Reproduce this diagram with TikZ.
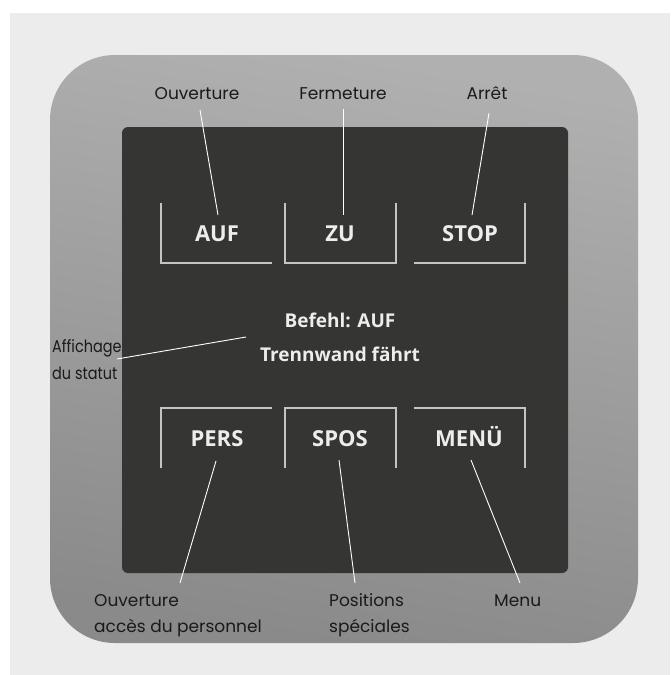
\documentclass[tikz,border=0pt]{standalone}
\usepackage{fontspec}
\usepackage{graphicx}
\setmainfont{Poppins}
\newfontfamily\scrfont{Open Sans}
\definecolor{panelc}{HTML}{ECECEC}
\definecolor{devtop}{HTML}{B0B0B0}
\definecolor{devbot}{HTML}{8A8A8A}
\definecolor{screenc}{HTML}{353533}
\definecolor{scrtext}{HTML}{EDEDED}
\definecolor{labelc}{HTML}{1A1A1A}
\definecolor{btnline}{HTML}{C4C4C4}
\begin{document}
\begin{tikzpicture}[x=1pt,y=-1pt,
  lbl/.style={text=labelc, font=\fontsize{17}{20}\selectfont, inner sep=0pt},
  scr/.style={text=scrtext, font=\scrfont\bfseries\fontsize{22}{26}\selectfont, inner sep=0pt},
  stat/.style={text=scrtext, font=\scrfont\bfseries\fontsize{19}{23}\selectfont, inner sep=0pt},
  lead/.style={draw=white, line width=0.9pt},
  btnframe/.style={draw=btnline, line width=1.3pt}]
\useasboundingbox (0,0) rectangle (670,675);
\fill[white] (0,0) rectangle (670,675);
\fill[panelc] (10,13) rectangle (670,675);
% device body
\shade[top color=devtop, bottom color=devbot, shading angle=-10, rounded corners=65pt] (50,55) rectangle (638,643);
% screen
\fill[screenc, rounded corners=6pt] (122,127) rectangle (568,573);
% button frames
\draw[btnframe] (161,203) -- (161,263) -- (272,263);
\draw[btnframe] (285,203) -- (285,263) -- (396,263) -- (396,203);
\draw[btnframe] (414,263) -- (525,263) -- (525,203);
\draw[btnframe] (161,468) -- (161,408) -- (272,408);
\draw[btnframe] (285,468) -- (285,408) -- (396,408) -- (396,468);
\draw[btnframe] (414,408) -- (525,408) -- (525,468);
% screen texts
\node[scr, anchor=base] (auf) at (217,241) {AUF};
\node[scr, anchor=base] (zu) at (340,241) {ZU};
\node[scr, anchor=base] (stop) at (470,241) {STOP};
\node[scr, anchor=base] (pers) at (217,446) {PERS};
\node[scr, anchor=base] (spos) at (340,446) {SPOS};
\node[scr, anchor=base] (menu) at (469,446) {MENÜ};
\node[stat, anchor=base] (befehl) at (340,327) {Befehl: AUF};
\node[stat, anchor=base] (trenn) at (340,361) {Trennwand fährt};
% labels
\node[lbl, anchor=base] (lOuv) at (197,99) {Ouverture};
\node[lbl, anchor=base] (lFerm) at (343,99) {Fermeture};
\node[lbl, anchor=base] (lArr) at (487,99) {Arrêt};
\node[lbl, anchor=base west] (lAff1) at (52,352) {\scalebox{0.85}[1]{Affichage}};
\node[lbl, anchor=base west] (lAff2) at (52,379) {\scalebox{0.85}[1]{du statut}};
\node[lbl, anchor=base west] (lPers1) at (94,606) {Ouverture};
\node[lbl, anchor=base west] (lPers2) at (94,632) {accès du personnel};
\node[lbl, anchor=base west] (lPos1) at (329,606) {Positions};
\node[lbl, anchor=base west] (lPos2) at (329,632) {spéciales};
\node[lbl, anchor=base west] (lMenu) at (494,606) {Menu};
% leader end points
\coordinate (o1) at (200,110); \coordinate (o2) at (218,215);
\coordinate (f1) at (343,109); \coordinate (f2) at (343,215);
\coordinate (r1) at (489,113); \coordinate (r2) at (472,215);
\coordinate (s1) at (117,359); \coordinate (s2) at (246,337);
\coordinate (p1) at (216,461); \coordinate (p2) at (180,583);
\coordinate (q1) at (339,460); \coordinate (q2) at (355,583);
\coordinate (m1) at (471,460); \coordinate (m2) at (520,583);
\draw[lead] (o1) -- (o2);
\draw[lead] (f1) -- (f2);
\draw[lead] (r1) -- (r2);
\draw[lead] (s1) -- (s2);
\draw[lead] (p1) -- (p2);
\draw[lead] (q1) -- (q2);
\draw[lead] (m1) -- (m2);
\end{tikzpicture}
\end{document}
